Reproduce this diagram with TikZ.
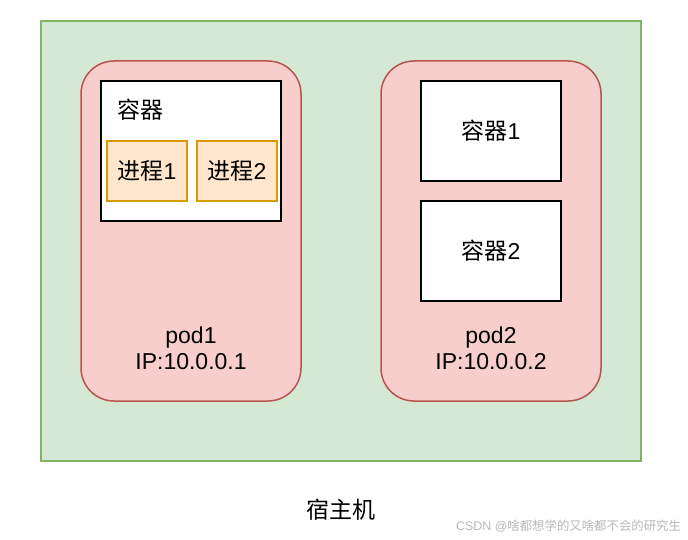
\documentclass[tikz,border=0pt]{standalone}
\usepackage{fontspec}
\setmainfont{Liberation Sans}
\newfontfamily\cjk{Noto Sans CJK SC}
\definecolor{hostfill}{HTML}{D5E8D4}
\definecolor{hostdraw}{HTML}{82B366}
\definecolor{podfill}{HTML}{F8CECC}
\definecolor{poddraw}{HTML}{B85450}
\definecolor{procfill}{HTML}{FFE6CC}
\definecolor{procdraw}{HTML}{D79B00}
\definecolor{wmark}{HTML}{B8B8B8}
\begin{document}
\begin{tikzpicture}[x=1pt,y=-1pt,
  every node/.style={inner sep=0pt, outer sep=0pt},
  bigtext/.style={font=\fontsize{23}{26}\selectfont, align=center},
  hostbox/.style={draw=hostdraw, fill=hostfill, line width=1.5pt},
  podbox/.style={draw=poddraw, fill=podfill, line width=1.5pt, rounded corners=33pt},
  ctrbox/.style={draw=black, fill=white, line width=2pt},
  procbox/.style={draw=procdraw, fill=procfill, line width=1.8pt}]
\useasboundingbox (0,0) rectangle (688,540);
\fill[white] (0,0) rectangle (688,540);
\node[hostbox, minimum width=600pt, minimum height=440pt] (host) at (341,241) {};
\node[podbox, minimum width=220pt, minimum height=340pt] (pod1) at (191,231) {};
\node[podbox, minimum width=220pt, minimum height=340pt] (pod2) at (491,231) {};
\node[ctrbox, minimum width=180pt, minimum height=140pt] (ctr) at (191,151) {};
\node[bigtext] (ctrlabel) at (140,110) {\cjk 容器};
\node[procbox, minimum width=80pt, minimum height=60pt, bigtext] (p1) at (147,171) {{\cjk 进程}1};
\node[procbox, minimum width=80pt, minimum height=60pt, bigtext] (p2) at (237,171) {{\cjk 进程}2};
\node[ctrbox, minimum width=140pt, minimum height=100pt, bigtext] (c1) at (491,131) {{\cjk 容器}1};
\node[ctrbox, minimum width=140pt, minimum height=100pt, bigtext] (c2) at (491,251) {{\cjk 容器}2};
\node[bigtext] (pod1label) at (191,348) {pod1\\IP:10.0.0.1};
\node[bigtext] (pod2label) at (491,348) {pod2\\IP:10.0.0.2};
\node[bigtext] (hostlabel) at (341,510) {\cjk 宿主机};
\node[font=\fontsize{12.4}{14}\selectfont, text=wmark, anchor=east] (wm) at (681,526) {CSDN @{\cjk 啥都想学的又啥都不会的研究生}};
\end{tikzpicture}
\end{document}
